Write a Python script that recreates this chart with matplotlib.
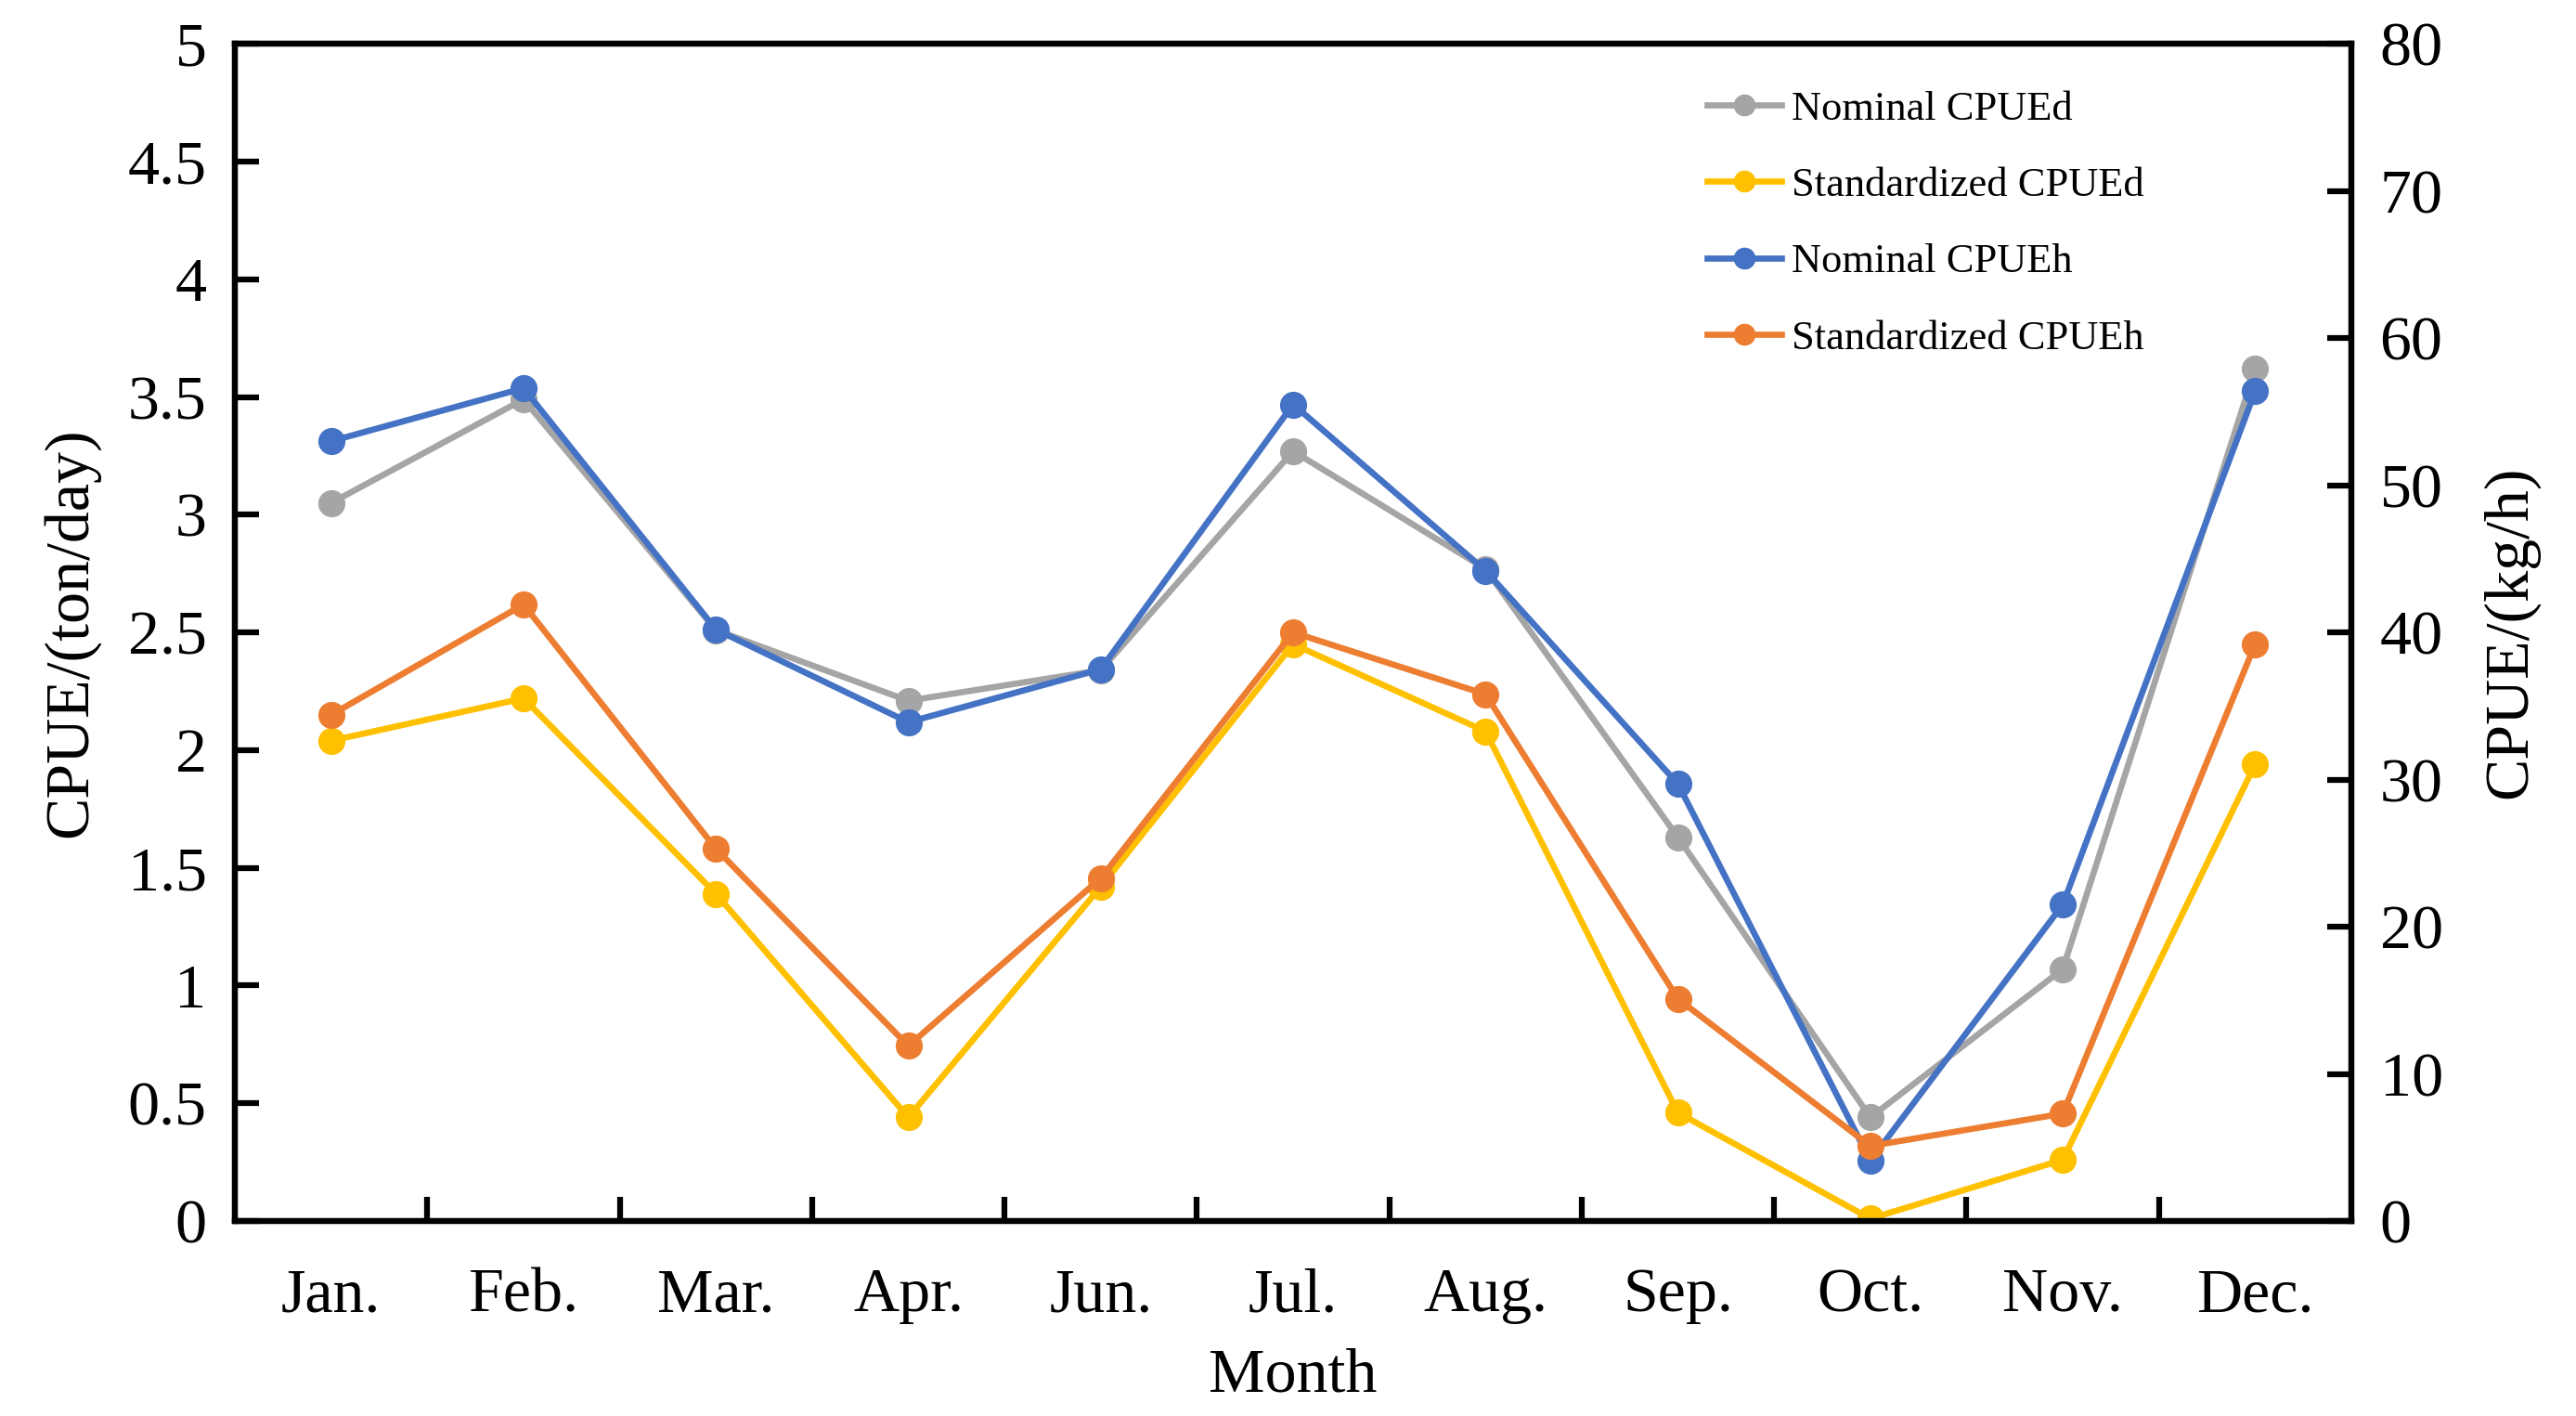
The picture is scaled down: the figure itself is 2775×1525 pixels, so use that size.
import numpy as np
import matplotlib.pyplot as plt
from matplotlib.ticker import FixedLocator, NullFormatter

plt.rcParams['font.family'] = ['Liberation Serif', 'DejaVu Serif']

months = ['Jan.', 'Feb.', 'Mar.', 'Apr.', 'Jun.', 'Jul.', 'Aug.', 'Sep.', 'Oct.', 'Nov.', 'Dec.']
nominal_d = [3.05, 3.49, 2.51, 2.21, 2.34, 3.27, 2.77, 1.63, 0.44, 1.07, 3.62]
standard_d = [2.04, 2.22, 1.39, 0.44, 1.42, 2.45, 2.08, 0.46, 0.01, 0.26, 1.94]
nominal_h = [53.0, 56.6, 40.2, 33.9, 37.5, 55.5, 44.2, 29.7, 4.1, 21.5, 56.4]
standard_h = [34.4, 41.9, 25.3, 11.9, 23.3, 40.0, 35.8, 15.1, 5.1, 7.3, 39.2]

c_gray = '#A5A5A5'
c_yellow = '#FFC000'
c_blue = '#4472C4'
c_orange = '#ED7D31'

fig = plt.figure(figsize=(27.75, 15.25), dpi=100)
ax = fig.add_axes([0.0912, 0.1377, 0.8216, 0.8313])
ax2 = ax.twinx()

x = np.arange(len(months))
lw = 4.8
ms = 20
l1, = ax.plot(x, nominal_d, '-o', color=c_gray, lw=lw, ms=ms, label='Nominal CPUEd')
l2, = ax.plot(x, standard_d, '-o', color=c_yellow, lw=lw, ms=ms, label='Standardized CPUEd')
l3, = ax2.plot(x, nominal_h, '-o', color=c_blue, lw=lw, ms=ms, label='Nominal CPUEh')
l4, = ax2.plot(x, standard_h, '-o', color=c_orange, lw=lw, ms=ms, label='Standardized CPUEh')

ax.set_xlim(-0.5, len(months) - 0.5)
ax.set_ylim(0, 5)
ax2.set_ylim(0, 80)

ax.set_yticks(np.arange(0, 5.01, 0.5))
ax.set_yticklabels(['0', '0.5', '1', '1.5', '2', '2.5', '3', '3.5', '4', '4.5', '5'])
ax2.set_yticks(np.arange(0, 81, 10))

# ticks on category boundaries, labels at centres
ax.xaxis.set_major_locator(FixedLocator(np.arange(0.5, len(months) - 1, 1.0)))
ax.xaxis.set_major_formatter(NullFormatter())
ax.xaxis.set_minor_locator(FixedLocator(x))
ax.set_xticklabels(months, minor=True)

fs = 49
ax.tick_params(axis='x', which='major', direction='in', length=19, width=4.5)
ax.tick_params(axis='x', which='minor', length=0, labelsize=fs, pad=36)
ax.tick_params(axis='y', direction='in', length=19, width=4.5, labelsize=fs, pad=22)
ax2.tick_params(axis='y', direction='in', length=19, width=4.5, labelsize=fs, pad=22)

for a in (ax, ax2):
    for s in a.spines.values():
        s.set_linewidth(4.5)

ax.set_xlabel('Month', fontsize=fs, labelpad=18)
ax.set_ylabel('CPUE/(ton/day)', fontsize=fs, labelpad=22)
ax2.set_ylabel('CPUE/(kg/h)', fontsize=fs, labelpad=30)

ax2.legend(handles=[l1, l2, l3, l4], loc='upper left', bbox_to_anchor=(0.678, 0.992),
           frameon=False, fontsize=32, handlelength=1.8, handletextpad=0.25,
           labelspacing=0.95, markerscale=0.8)

fig.savefig('out.png', dpi=100)
